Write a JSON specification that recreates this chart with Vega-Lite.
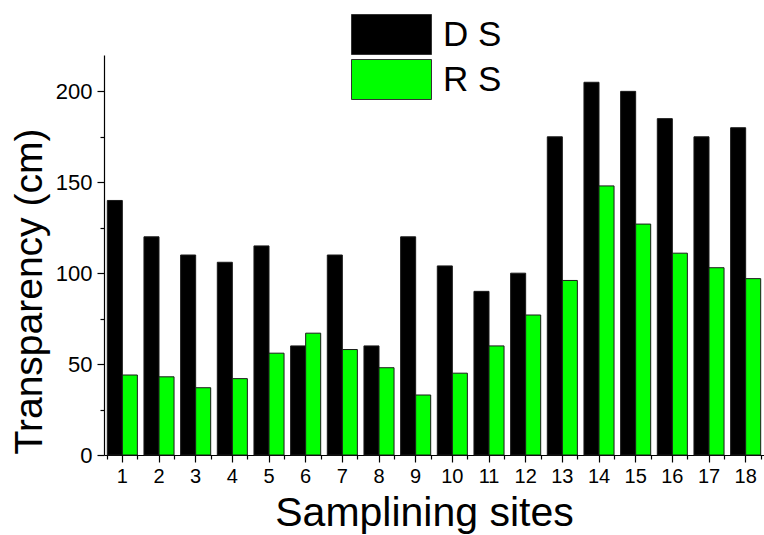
{
  "$schema": "https://vega.github.io/schema/vega-lite/v6.json",
  "width": 660,
  "height": 400,
  "autosize": "none",
  "padding": {"left": 104, "top": 55, "right": 0, "bottom": 80},
  "background": "white",
  "config": {
    "view": {"stroke": null},
    "font": "Liberation Sans",
    "axis": {"domainColor": "black", "tickColor": "black", "labelColor": "black", "titleColor": "black", "grid": false, "domainWidth": 1.2, "tickWidth": 1.2, "labelFont": "Liberation Sans", "titleFont": "Liberation Sans"},
    "legend": {"labelFont": "Liberation Sans"}
  },
  "data": {"values": [
    {"site": 1, "series": "D S", "value": 140}, {"site": 1, "series": "R S", "value": 44},
    {"site": 2, "series": "D S", "value": 120}, {"site": 2, "series": "R S", "value": 43},
    {"site": 3, "series": "D S", "value": 110}, {"site": 3, "series": "R S", "value": 37},
    {"site": 4, "series": "D S", "value": 106}, {"site": 4, "series": "R S", "value": 42},
    {"site": 5, "series": "D S", "value": 115}, {"site": 5, "series": "R S", "value": 56},
    {"site": 6, "series": "D S", "value": 60}, {"site": 6, "series": "R S", "value": 67},
    {"site": 7, "series": "D S", "value": 110}, {"site": 7, "series": "R S", "value": 58},
    {"site": 8, "series": "D S", "value": 60}, {"site": 8, "series": "R S", "value": 48},
    {"site": 9, "series": "D S", "value": 120}, {"site": 9, "series": "R S", "value": 33},
    {"site": 10, "series": "D S", "value": 104}, {"site": 10, "series": "R S", "value": 45},
    {"site": 11, "series": "D S", "value": 90}, {"site": 11, "series": "R S", "value": 60},
    {"site": 12, "series": "D S", "value": 100}, {"site": 12, "series": "R S", "value": 77},
    {"site": 13, "series": "D S", "value": 175}, {"site": 13, "series": "R S", "value": 96},
    {"site": 14, "series": "D S", "value": 205}, {"site": 14, "series": "R S", "value": 148},
    {"site": 15, "series": "D S", "value": 200}, {"site": 15, "series": "R S", "value": 127},
    {"site": 16, "series": "D S", "value": 185}, {"site": 16, "series": "R S", "value": 111},
    {"site": 17, "series": "D S", "value": 175}, {"site": 17, "series": "R S", "value": 103},
    {"site": 18, "series": "D S", "value": 180}, {"site": 18, "series": "R S", "value": 97}
  ]},
  "layer": [
    {
      "mark": {"type": "bar", "stroke": "#1a1a1a", "strokeWidth": 1},
      "encoding": {
        "x": {"field": "site", "type": "ordinal",
              "scale": {"paddingInner": 0.18, "paddingOuter": 0.09},
              "axis": {"orient": "bottom", "labelFontSize": 20, "labelAngle": 0, "tickSize": 7, "labelPadding": 4,
                       "title": "Samplining sites", "titleFontSize": 41, "titleFontWeight": "normal",
                       "titleX": 320, "titleY": 70, "titleBaseline": "alphabetic", "titleAlign": "center"}},
        "xOffset": {"field": "series", "type": "nominal", "sort": ["D S", "R S"], "scale": {"paddingInner": 0, "paddingOuter": 0}},
        "y": {"field": "value", "type": "quantitative",
              "scale": {"domain": [0, 220], "nice": false},
              "axis": {"orient": "left", "values": [0, 50, 100, 150, 200], "labelFontSize": 22, "tickSize": 7, "labelPadding": 5,
                       "title": "Transparency (cm)", "titleFontSize": 39, "titleFontWeight": "normal", "titleAngle": -90,
                       "titleX": -63, "titleY": 236, "titleBaseline": "alphabetic", "titleAlign": "center"}},
        "color": {"field": "series", "type": "nominal",
                  "scale": {"domain": ["D S", "R S"], "range": ["#000000", "#00ff00"]},
                  "legend": {"orient": "none", "legendX": 267, "legendY": -41, "direction": "vertical", "title": null,
                             "symbolType": "M-2,-1H2V1H-2Z", "symbolSize": 1600, "symbolStrokeColor": "#333333", "symbolStrokeWidth": 1,
                             "symbolOpacity": 1, "labelFontSize": 35, "labelOffset": 31, "rowPadding": 0, "padding": 0, "labelColor": "black"}}
      }
    },
    {
      "mark": {"type": "bar", "opacity": 0},
      "encoding": {
        "x": {"field": "site", "type": "ordinal",
              "axis": {"orient": "bottom", "tickBand": "extent", "labels": false, "domain": false, "tickSize": 4, "title": null}},
        "y": {"field": "value", "type": "quantitative",
              "axis": {"orient": "left", "values": [25, 75, 125, 175], "labels": false, "domain": false, "tickSize": 4, "title": null}}
      }
    }
  ],
  "resolve": {"axis": {"x": "independent", "y": "independent"}}
}
